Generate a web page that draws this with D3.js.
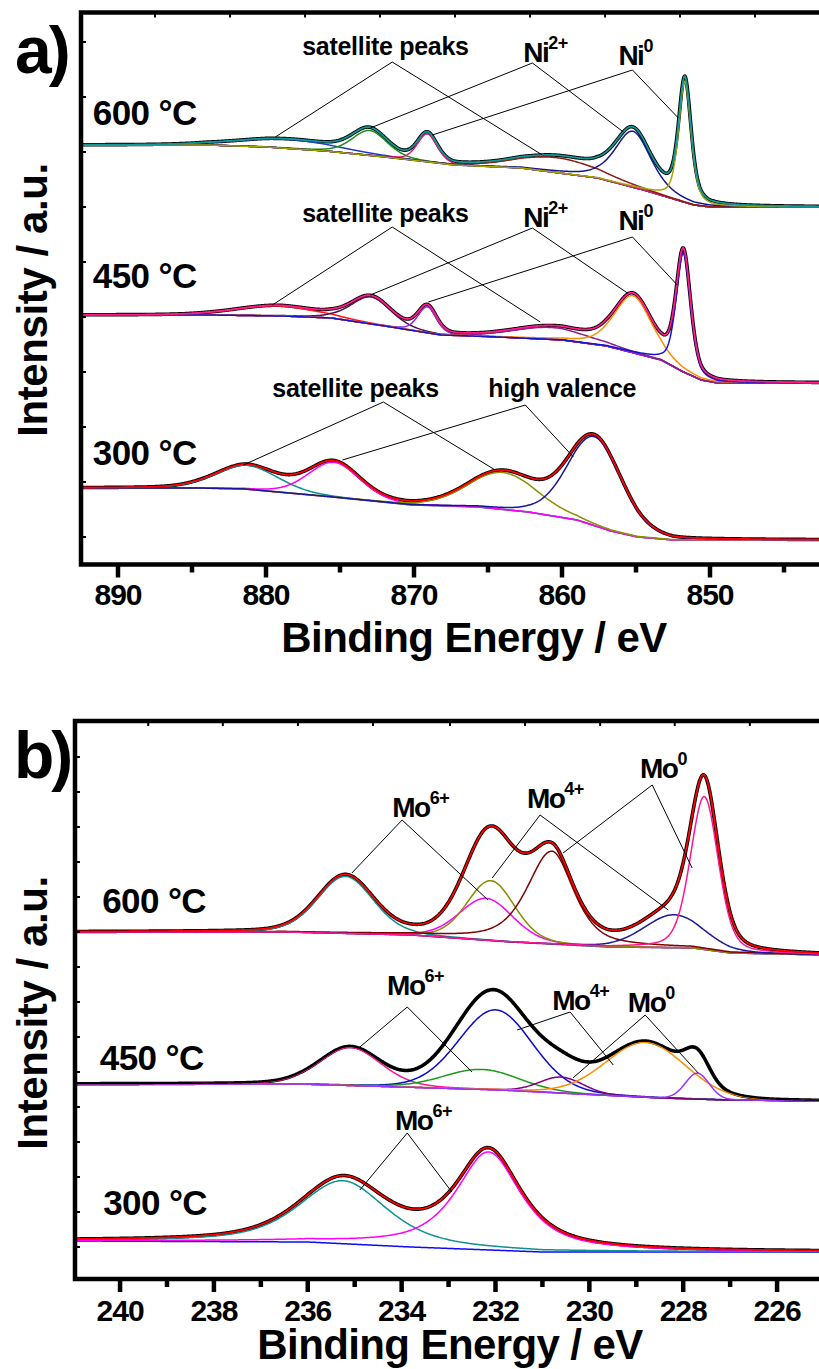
<!DOCTYPE html>
<html><head><meta charset="utf-8">
<script src="https://cdn.jsdelivr.net/npm/d3@7"></script>
<style>
body{margin:0;background:#fff}
text{font-family:"Liberation Sans",Arial,Helvetica,sans-serif;font-weight:bold;fill:#000}
</style>
</head><body>
<svg id="c" width="819" height="1369" xmlns="http://www.w3.org/2000/svg"></svg>
<script>
// ===================== DATA =====================
// ---- Panel a : Ni 2p ----
const niTicks = [890, 880, 870, 860, 850];
const niMinorTicks = [885, 875, 865, 855, 845];
const niTopTicks = [887.5, 882.43, 877.36, 872.3, 867.23, 862.16, 857.09, 852.03, 846.96];
const niYTicks = [26, 81, 136, 191, 246, 301, 356, 411, 466, 521];

// 600 °C
const ni600BaseE = [892.5, 884, 880, 876, 872, 870.2, 867.3, 862.8, 857.6, 854.5, 851.1, 850, 842.5];
const ni600BaseI = [418, 418, 416, 412, 406, 403, 398, 395, 385, 373, 358, 356, 356];
const ni600Center = [878.5, 873.0, 869.1, 860.3, 855.2, 851.7];
const ni600Height = [9, 25, 28, 15, 56, 121];
const ni600Fwhm = [8, 2.8, 1.6, 6.5, 2.9, 1.0];
const ni600Eta = [0.2, 0.3, 0.3, 0.2, 0.5, 0.5];

// 450 °C
const ni450BaseE = [892.5, 884, 879, 875.6, 872, 868.2, 864.4, 860, 857, 855.4, 853.3, 851.8, 850.6, 849.5, 842.5];
const ni450BaseI = [248, 248, 247, 245, 237, 228, 226, 223, 217, 211, 203, 191, 183, 180, 180];
const ni450Center = [879.3, 872.9, 869.1, 860.8, 855.2, 851.8];
const ni450Height = [10, 27, 26, 12, 57, 119];
const ni450Fwhm = [6.5, 3.2, 1.5, 6.0, 3.0, 1.15];
const ni450Eta = [0.2, 0.3, 0.3, 0.2, 0.4, 0.4];

// 300 °C
const ni300BaseE = [892.5, 885, 881.5, 875.6, 870.2, 865.7, 862.3, 859, 856.7, 854.9, 852.5, 842.5];
const ni300BaseI = [75, 75, 74, 66, 58, 56, 51, 43, 32, 26, 23, 23];
const ni300Center = [881.3, 875.4, 864.0, 857.8];
const ni300Height = [24, 35, 37, 89];
const ni300Fwhm = [5.0, 4.1, 5.5, 4.3];
const ni300Eta = [0.2, 0.2, 0.2, 0.2];

// ---- Panel b : Mo 3d ----
const moTicks = [240, 238, 236, 234, 232, 230, 228, 226];
const moMinorTicks = [239, 237, 235, 233, 231, 229, 227, 225];
const moTopTicks = [239.4, 237.81, 236.21, 234.61, 232.97, 231.37, 229.77, 228.18, 226.58];
const moYTicks = [31, 66, 101, 136, 171, 206, 241, 276, 311, 346, 381, 416, 451, 486, 521];

// 600 °C
const mo600BaseE = [241, 236.5, 233.8, 231.7, 229.6, 227.8, 227.0, 225];
const mo600BaseI = [346, 346, 343, 336, 331, 330, 325, 323];
const mo600Center = [235.2, 232.2, 232.1, 230.8, 228.2, 227.55];
const mo600Height = [57, 42, 60, 93, 33, 153];
const mo600Fwhm = [1.4, 1.35, 1.2, 1.1, 1.5, 0.7];
const mo600FwhmHigh = [1.4, 1.35, 1.2, 1.25, 1.5, 0.7];
const mo600Eta = [0.2, 0.2, 0.2, 0.6, 0.2, 0.3];

// 450 °C
const mo450BaseE = [241, 236.2, 234.0, 231.9, 229.8, 228.5, 227.1, 225];
const mo450BaseI = [194, 194, 191, 188, 183, 180, 178, 177];
const mo450Center = [235.1, 232.0, 232.3, 230.6, 228.8, 227.7];
const mo450Height = [38, 80, 20, 16, 55, 26];
const mo450Fwhm = [1.55, 1.85, 1.9, 1.1, 2.0, 0.6];
const mo450Eta = [0.2, 0.1, 0.1, 0.1, 0.1, 0.1];

// 300 °C
const mo300BaseE = [241, 236, 233.8, 231, 225];
const mo300BaseI = [37, 36, 31, 26, 26];
const mo300Center = [235.25, 232.15];
const mo300Height = [63, 98];
const mo300Fwhm = [2.2, 1.65];
const mo300Eta = [0.6, 0.8];

// ---- labels (data coordinates: energy, intensity) ----
const tempLabels = ["600 °C", "450 °C", "300 °C"];
const niTempE = [891.7, 891.7, 891.7];
const niTempI = [438, 275, 98];
const moTempE = [240.38, 240.43, 240.36];
const moTempI = [365, 208, 63];

// annotations: text, superscript, text pos, vertex, two leader ends
const niAnnText = ["satellite peaks", "Ni", "Ni", "satellite peaks", "Ni", "Ni", "satellite peaks", "high valence"];
const niAnnSup = ["", "2+", "0", "", "2+", "0", "", ""];
const niAnnE = [877.55, 862.61, 856.19, 877.55, 862.61, 856.19, 879.57, 864.98];
const niAnnI = [508, 501, 498, 341, 336, 333, 166, 166];
const niVertE = [871.47, 862.0, 855.24, 871.47, 862.0, 855.24, 872.07, 862.48];
const niVertI = [501, 500, 493, 336, 335, 326, 161, 158];
const niEnd1E = [879.37, 872.95, 868.76, 879.57, 872.95, 869.03, 881.53, 874.84];
const niEnd1I = [426, 435, 428, 258, 268, 261, 98, 103];
const niEnd2E = [861.33, 855.85, 852.14, 861.47, 855.58, 852.21, 864.51, 859.23];
const niEnd2I = [408, 431, 445, 241, 270, 278, 93, 106];

const moAnnText = ["Mo", "Mo", "Mo", "Mo", "Mo", "Mo", "Mo"];
const moAnnSup = ["6+", "4+", "0", "6+", "4+", "0", "6+"];
const moAnnE = [234.2, 231.33, 228.92, 234.31, 230.79, 229.18, 234.14];
const moAnnI = [461, 470, 500, 283, 268, 266, 148];
const moVertE = [233.99, 231.05, 228.66, 233.88, 230.41, 228.81, 233.88];
const moVertI = [458, 463, 493, 271, 266, 263, 145];
const moEnd1E = [235.06, 232.07, 230.56, 234.89, 231.54, 230.35, 234.89];
const moEnd1I = [405, 400, 425, 231, 248, 200, 88];
const moEnd2E = [232.16, 228.32, 227.81, 232.5, 229.49, 227.68, 232.93];
const moEnd2I = [378, 368, 410, 206, 213, 205, 86];

// ===================== STYLES =====================
const ni600Colors = ["#2238cc", "#1a8c1a", "#e3127d", "#8e1c12", "#16168f", "#a6a400"];
const ni450Colors = ["#ff1414", "#4a1050", "#8a2be2", "#8a2090", "#ff8c00", "#1414d0"];
const ni300Colors = ["#0e8f8f", "#ff00ff", "#8f8f00", "#16169a"];
const mo600Colors = ["#0f8f8f", "#ff00ff", "#8b8b00", "#800000", "#1a1a9a", "#ff1493"];
const mo450Colors = ["#ff1493", "#0a0ad0", "#1a9a1a", "#800080", "#ff8c00", "#9b30ff"];
const mo300Colors = ["#109090", "#ff00ff"];

// ===================== DRAW =====================
const svg = d3.select("#c");

function pv(E, c, h, wLo, wHi, eta) {
  const w = E >= c ? wHi : wLo;
  const t = (E - c) / w;
  const g = Math.exp(-4 * Math.LN2 * t * t);
  const l = 1 / (1 + 4 * t * t);
  return h * ((1 - eta) * g + eta * l);
}

function drawSpectrum(g, x, y, grid, s) {
  const base = d3.scaleLinear().domain(s.baseE).range(s.baseI).clamp(true);
  const hi = s.fwhmHigh || s.fwhm;
  const comp = (k, E) => pv(E, s.center[k], s.height[k], s.fwhm[k], hi[k], s.eta[k]);
  const env = grid.map(E => [E, base(E) + d3.sum(s.center, (c, k) => comp(k, E))]);
  const line = d3.line().x(d => x(d[0])).y(d => y(d[1]));
  // measured (thick black)
  g.append("path").attr("d", line(env)).attr("fill", "none")
    .attr("stroke", "#000").attr("stroke-width", 3.6).attr("stroke-linejoin", "round");
  // baseline
  g.append("path").attr("d", line(grid.map(E => [E, base(E)]))).attr("fill", "none")
    .attr("stroke", s.baseColor).attr("stroke-width", 1.5);
  // components
  s.center.forEach((c, k) => {
    g.append("path").attr("d", line(grid.map(E => [E, base(E) + comp(k, E)])))
      .attr("fill", "none").attr("stroke", s.colors[k]).attr("stroke-width", 1.5);
  });
  // envelope
  g.append("path").attr("d", line(env)).attr("fill", "none")
    .attr("stroke", s.envColor).attr("stroke-width", s.envWidth || 1.8);
}

function drawPanel(p) {
  const g = svg.append("g");
  const clipId = "clip" + p.id;
  svg.append("clipPath").attr("id", clipId).append("rect")
    .attr("x", p.left + 2).attr("y", p.top + 2)
    .attr("width", 819 - p.left).attr("height", p.bottom - p.top - 4);
  const plot = g.append("g").attr("clip-path", `url(#${clipId})`);
  const [d0, d1] = p.x.domain();
  const grid = d3.range(Math.min(d0, d1), Math.max(d0, d1) + p.step / 2, p.step);
  p.spectra.forEach(s => drawSpectrum(plot, p.x, p.y, grid, s));

  // frame (left, top, bottom; right side lies outside the picture)
  g.append("path")
    .attr("d", `M850,${p.top}H${p.left}V${p.bottom}H850`)
    .attr("fill", "none").attr("stroke", "#000").attr("stroke-width", 4.5)
    .attr("stroke-linejoin", "miter");

  // bottom ticks
  g.selectAll(null).data(p.ticks).join("line")
    .attr("x1", d => p.x(d)).attr("x2", d => p.x(d))
    .attr("y1", p.bottom).attr("y2", p.bottom + 13)
    .attr("stroke", "#000").attr("stroke-width", 4.5);
  g.selectAll(null).data(p.minor).join("line")
    .attr("x1", d => p.x(d)).attr("x2", d => p.x(d))
    .attr("y1", p.bottom).attr("y2", p.bottom + 8)
    .attr("stroke", "#000").attr("stroke-width", 4.5);
  // top ticks (inward)
  g.selectAll(null).data(p.topTicks).join("line")
    .attr("x1", d => p.x(d)).attr("x2", d => p.x(d))
    .attr("y1", p.top).attr("y2", p.top + 5)
    .attr("stroke", "#000").attr("stroke-width", 2);
  // left ticks (inward)
  g.selectAll(null).data(p.yTicks).join("line")
    .attr("x1", p.left).attr("x2", p.left + 5)
    .attr("y1", d => p.y(d)).attr("y2", d => p.y(d))
    .attr("stroke", "#000").attr("stroke-width", 2);
  // tick labels
  g.selectAll(null).data(p.ticks).join("text")
    .attr("x", d => p.x(d)).attr("y", p.tickLabelY)
    .attr("text-anchor", "middle").attr("font-size", 30)
    .attr("letter-spacing", -1).text(d => d);

  // axis titles
  g.append("text").attr("x", p.titleX).attr("y", p.titleY)
    .attr("text-anchor", "middle").attr("font-size", 42).attr("letter-spacing", -0.6)
    .text("Binding Energy / eV");
  g.append("text").attr("transform", `translate(47,${p.yTitleC}) rotate(-90)`)
    .attr("text-anchor", "middle").attr("font-size", 42).attr("letter-spacing", -0.4)
    .text("Intensity / a.u.");
  // panel letter
  g.append("text").attr("x", p.letterX).attr("y", p.letterY)
    .attr("font-size", 66).attr("letter-spacing", -3).text(p.letter);

  // temperature labels
  tempLabels.forEach((t, i) => {
    g.append("text").attr("x", p.x(p.tempE[i])).attr("y", p.y(p.tempI[i]))
      .attr("font-size", 35).attr("letter-spacing", -0.6).text(t);
  });

  // annotations
  const a = p.ann;
  a.text.forEach((t, i) => {
    const vx = p.x(a.vE[i]), vy = p.y(a.vI[i]);
    [[a.e1E[i], a.e1I[i]], [a.e2E[i], a.e2I[i]]].forEach(([e, v]) => {
      g.append("line").attr("x1", vx).attr("y1", vy)
        .attr("x2", p.x(e)).attr("y2", p.y(v))
        .attr("stroke", "#000").attr("stroke-width", 1);
    });
    const big = a.sup[i] !== "";
    const tx = g.append("text").attr("x", p.x(a.tE[i])).attr("y", p.y(a.tI[i]))
      .attr("font-size", big ? 28 : 25).attr("letter-spacing", big ? -1.5 : -0.3);
    tx.append("tspan").text(t);
    if (big) tx.append("tspan").attr("dy", -13).attr("font-size", 18)
      .attr("letter-spacing", -0.5).text(a.sup[i]);
  });
}

drawPanel({
  id: "a", letter: "a)", letterX: 15, letterY: 73,
  left: 81, top: 12.5, bottom: 564.5, step: 0.05,
  x: d3.scaleLinear().domain([892.5, 842.5]).range([81, 821]),
  y: d3.scaleLinear().domain([0, 550]).range([563, 13]),
  ticks: niTicks, minor: niMinorTicks, topTicks: niTopTicks, yTicks: niYTicks,
  tickLabelY: 605, titleX: 474, titleY: 652, yTitleC: 300,
  tempE: niTempE, tempI: niTempI,
  ann: {text: niAnnText, sup: niAnnSup, tE: niAnnE, tI: niAnnI, vE: niVertE, vI: niVertI,
        e1E: niEnd1E, e1I: niEnd1I, e2E: niEnd2E, e2I: niEnd2I},
  spectra: [
    {baseE: ni600BaseE, baseI: ni600BaseI, center: ni600Center, height: ni600Height,
     fwhm: ni600Fwhm, eta: ni600Eta, colors: ni600Colors, baseColor: "#16168f", envColor: "#139696"},
    {baseE: ni450BaseE, baseI: ni450BaseI, center: ni450Center, height: ni450Height,
     fwhm: ni450Fwhm, eta: ni450Eta, colors: ni450Colors, baseColor: "#ee1111", envColor: "#ff1a8a"},
    {baseE: ni300BaseE, baseI: ni300BaseI, center: ni300Center, height: ni300Height,
     fwhm: ni300Fwhm, eta: ni300Eta, colors: ni300Colors, baseColor: "#c020c0", envColor: "#ff0000"}
  ]
});

drawPanel({
  id: "b", letter: "b)", letterX: 14, letterY: 778,
  left: 75, top: 721, bottom: 1279, step: 0.02,
  x: d3.scaleLinear().domain([240.96, 225]).range([75, 824]),
  y: d3.scaleLinear().domain([0, 558]).range([1278, 720]),
  ticks: moTicks, minor: moMinorTicks, topTicks: moTopTicks, yTicks: moYTicks,
  tickLabelY: 1321, titleX: 450, titleY: 1359, yTitleC: 1013,
  tempE: moTempE, tempI: moTempI,
  ann: {text: moAnnText, sup: moAnnSup, tE: moAnnE, tI: moAnnI, vE: moVertE, vI: moVertI,
        e1E: moEnd1E, e1I: moEnd1I, e2E: moEnd2E, e2I: moEnd2I},
  spectra: [
    {baseE: mo600BaseE, baseI: mo600BaseI, center: mo600Center, height: mo600Height,
     fwhm: mo600Fwhm, fwhmHigh: mo600FwhmHigh, eta: mo600Eta, colors: mo600Colors,
     baseColor: "#e01070", envColor: "#ff0000"},
    {baseE: mo450BaseE, baseI: mo450BaseI, center: mo450Center, height: mo450Height,
     fwhm: mo450Fwhm, eta: mo450Eta, colors: mo450Colors,
     baseColor: "#8a2be2", envColor: "#000000", envWidth: 1.2},
    {baseE: mo300BaseE, baseI: mo300BaseI, center: mo300Center, height: mo300Height,
     fwhm: mo300Fwhm, eta: mo300Eta, colors: mo300Colors,
     baseColor: "#0a0aff", envColor: "#ff0000"}
  ]
});
</script>
</body></html>
